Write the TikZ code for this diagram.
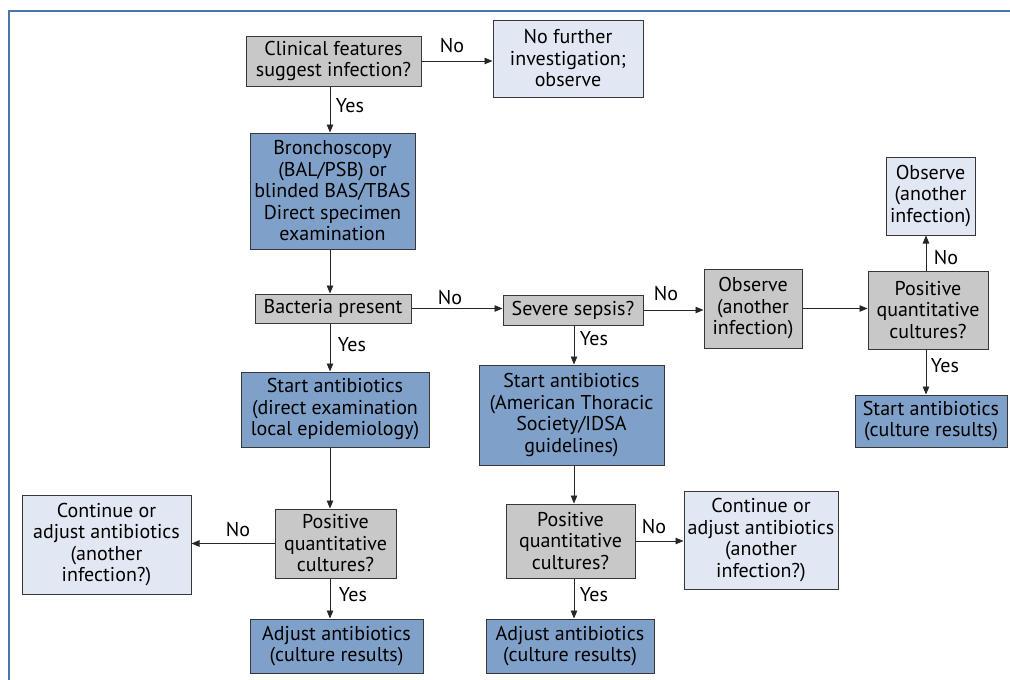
\documentclass[tikz,border=0pt]{standalone}
\usepackage{fontspec}
\setmainfont{PT Sans}
\usetikzlibrary{arrows.meta,calc}
\definecolor{grayfill}{RGB}{200,200,200}
\definecolor{bluefill}{RGB}{127,160,201}
\definecolor{lightfill}{RGB}{225,232,243}
\definecolor{framecol}{RGB}{70,118,172}
\definecolor{edgecol}{RGB}{55,55,55}
\begin{document}
\begin{tikzpicture}[x=1pt,y=-1pt,
  box/.style={draw=edgecol,line width=1pt,align=center,inner sep=0pt,
    font=\fontsize{20}{21.5}\selectfont},
  graybox/.style={box,fill=grayfill},
  bluebox/.style={box,fill=bluefill},
  lightbox/.style={box,fill=lightfill},
  conn/.style={draw=black!85,line width=0.9pt,-{Triangle[length=8pt,width=6.5pt]}},
  lbl/.style={font=\fontsize{20}{22}\selectfont,inner sep=0pt}]
\useasboundingbox (0,0) rectangle (1010,680);
\draw[framecol,line width=1.3pt] (9,680) -- (9,11) -- (1010,11);

\coordinate (c1) at (330,0);
\coordinate (c2) at (574,0);
\coordinate (c3) at (926,0);

\node[graybox,minimum width=175,minimum height=50] (q1) at (333.5,61) {Clinical features\\suggest infection?};
\node[lightbox,minimum width=150,minimum height=77] (nofurther) at (568,58.5) {No further\\investigation;\\observe};
\node[bluebox,minimum width=165,minimum height=116] (bron) at (332.5,191) {Bronchoscopy\\(BAL/PSB) or\\blinded BAS/TBAS\\Direct specimen\\examination};
\node[graybox,minimum width=156,minimum height=29] (bact) at (333,308.5) {Bacteria present};
\node[graybox,minimum width=140,minimum height=30] (sev) at (573,310) {Severe sepsis?};
\node[graybox,minimum width=98,minimum height=79] (obs1) at (753,308.5) {Observe\\(another\\infection)};
\node[graybox,minimum width=120,minimum height=78] (pos3) at (928,310) {Positive\\quantitative\\cultures?};
\node[lightbox,minimum width=89,minimum height=78] (obs2) at (930.5,196) {Observe\\(another\\infection)};
\node[bluebox,minimum width=152,minimum height=52] (start3) at (931,421) {Start antibiotics\\(culture results)};
\node[bluebox,minimum width=188,minimum height=75] (start1) at (335,409.5) {Start antibiotics\\(direct examination\\local epidemiology)};
\node[bluebox,minimum width=185,minimum height=100] (start2) at (571.5,415) {Start antibiotics\\(American Thoracic\\Society/IDSA\\guidelines)};
\node[graybox,minimum width=121,minimum height=69] (pos1) at (335.5,543.5) {Positive\\quantitative\\cultures?};
\node[lightbox,minimum width=169,minimum height=99] (cont1) at (106.5,544.5) {Continue or\\adjust antibiotics\\(another\\infection?)};
\node[bluebox,minimum width=173,minimum height=54] (adj1) at (336.5,646) {Adjust antibiotics\\(culture results)};
\node[graybox,minimum width=129,minimum height=74] (pos2) at (570.5,541) {Positive\\quantitative\\cultures?};
\node[lightbox,minimum width=154,minimum height=98] (cont2) at (761,540) {Continue or\\adjust antibiotics\\(another\\infection?)};
\node[bluebox,minimum width=168,minimum height=54] (adj2) at (570,646) {Adjust antibiotics\\(culture results)};

% column 1
\draw[conn] (q1.south -| c1) -- (bron.north -| c1);
\draw[conn] (bron.south -| c1) -- (bact.north -| c1);
\draw[conn] (bact.south -| c1) -- (start1.north -| c1);
\draw[conn] (start1.south -| c1) -- (pos1.north -| c1);
\draw[conn] (pos1.south -| c1) -- (adj1.north -| c1);
\draw[conn] (pos1.west) -- (pos1.west -| cont1.east);
% horizontal
\draw[conn] (q1.east) -- (q1.east -| nofurther.west);
\draw[conn] (bact.east) -- (bact.east -| sev.west);
\draw[conn] (sev.east) -- (sev.east -| obs1.west);
\draw[conn] (obs1.east) -- (obs1.east -| pos3.west);
% column 2
\draw[conn] (sev.south -| c2) -- (start2.north -| c2);
\draw[conn] (start2.south -| c2) -- (pos2.north -| c2);
\draw[conn] (pos2.south -| c2) -- (adj2.north -| c2);
\draw[conn] (pos2.east) -- (pos2.east -| cont2.west);
% column 3
\draw[conn] (pos3.north -| c3) -- (obs2.south -| c3);
\draw[conn] (pos3.south -| c3) -- (start3.north -| c3);

% labels
\node[lbl] (l1) at (452,46) {No};
\node[lbl] (l2) at (350,106) {Yes};
\node[lbl] (l3) at (450,298) {No};
\node[lbl] (l4) at (352,345) {Yes};
\node[lbl] (l5) at (238,530) {No};
\node[lbl] (l6) at (353,595) {Yes};
\node[lbl] (l7) at (666,294) {No};
\node[lbl] (l8) at (594,339) {Yes};
\node[lbl] (l9) at (654,527) {No};
\node[lbl] (l10) at (594,595) {Yes};
\node[lbl] (l11) at (946,258) {No};
\node[lbl] (l12) at (945,366) {Yes};
\end{tikzpicture}
\end{document}
